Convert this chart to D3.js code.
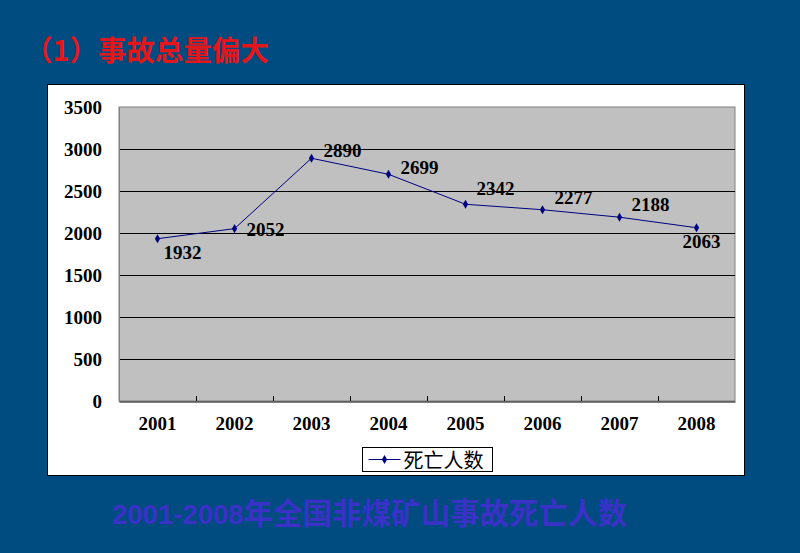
<!DOCTYPE html>
<html>
<head>
<meta charset="utf-8">
<script src="https://cdn.jsdelivr.net/npm/d3@7"></script>
<style>
  body { margin: 0; background: #004b80; }
  svg { display: block; }
</style>
</head>
<body>
<svg id="chart" width="800" height="553"></svg>
<script>
var years = ["2001", "2002", "2003", "2004", "2005", "2006", "2007", "2008"];
var deaths = [1932, 2052, 2890, 2699, 2342, 2277, 2188, 2063];
var yTicks = [0, 500, 1000, 1500, 2000, 2500, 3000, 3500];
var seriesName = "死亡人数";
var titleText = "（1）事故总量偏大";
var captionRange = "2001-2008";
var captionText = "年全国非煤矿山事故死亡人数";

var drawChart = function () {
    var svg = d3.select("#chart"),
        PLOT = { left: 119, right: 735, top: 107, bottom: 401 },
        numFont = "'Liberation Serif', 'Times New Roman', serif",
        cjkFont = "'Noto Sans CJK SC', sans-serif";

    svg.append("rect")
        .attr("width", 800).attr("height", 553)
        .attr("fill", "#004b80");

    // title
    svg.append("text")
        .attr("x", 24).attr("y", 61)
        .attr("fill", "#e3161b")
        .attr("font-family", cjkFont)
        .attr("font-weight", "bold")
        .attr("font-size", 28.5)
        .text(titleText);

    // caption
    var cap = svg.append("text")
        .attr("x", 112).attr("y", 524)
        .attr("fill", "#3a32c6")
        .attr("font-weight", "bold");
    cap.append("tspan")
        .attr("font-family", "'Liberation Sans', Arial, sans-serif")
        .attr("font-size", 27.5)
        .text(captionRange);
    cap.append("tspan")
        .attr("font-family", cjkFont)
        .attr("font-size", 29.5)
        .text(captionText);

    // white chart area
    svg.append("rect")
        .attr("x", 47.5).attr("y", 84.5)
        .attr("width", 697).attr("height", 391)
        .attr("fill", "#fff")
        .attr("stroke", "#000")
        .attr("stroke-width", 1);

    var xScale = d3.scaleBand().domain(years).range([PLOT.left, PLOT.right]),
        yScale = d3.scaleLinear().domain([0, 3500]).range([PLOT.bottom, PLOT.top]);

    svg.append("rect")
        .attr("x", PLOT.left).attr("y", PLOT.top)
        .attr("width", PLOT.right - PLOT.left).attr("height", PLOT.bottom - PLOT.top)
        .attr("fill", "#c0c0c0")
        .attr("stroke", "#808080");

    // grid lines
    svg.append("g")
        .selectAll("line")
        .data(yTicks.filter(function (d) { return d > 0 && d < 3500; }))
        .enter().append("line")
        .attr("x1", PLOT.left).attr("x2", PLOT.right)
        .attr("y1", function (d) { return Math.round(yScale(d)) + 0.5; })
        .attr("y2", function (d) { return Math.round(yScale(d)) + 0.5; })
        .attr("stroke", "#000")
        .attr("stroke-width", 1);

    // y axis
    var yAxis = d3.axisLeft(yScale).tickValues(yTicks).tickFormat(d3.format("d"))
        .tickSize(0).tickPadding(17);
    var gy = svg.append("g")
        .attr("transform", "translate(" + PLOT.left + ",0)")
        .call(yAxis);
    gy.select(".domain").attr("stroke", "#808080");
    gy.selectAll("text")
        .attr("font-family", numFont)
        .attr("font-weight", "bold")
        .attr("font-size", 19)
        .attr("fill", "#000");

    // x axis
    var xAxis = d3.axisBottom(xScale).tickSize(0).tickPadding(15);
    var gx = svg.append("g")
        .attr("transform", "translate(0," + (PLOT.bottom + 0.5) + ")")
        .call(xAxis);
    gx.select(".domain").attr("stroke", "#000");
    gx.selectAll("text")
        .attr("font-family", numFont)
        .attr("font-weight", "bold")
        .attr("font-size", 19)
        .attr("fill", "#000");

    // category separator ticks (inside)
    svg.append("g")
        .selectAll("line")
        .data(years.slice(1))
        .enter().append("line")
        .attr("x1", function (d) { return Math.round(xScale(d)) + 0.5; })
        .attr("x2", function (d) { return Math.round(xScale(d)) + 0.5; })
        .attr("y1", PLOT.bottom)
        .attr("y2", PLOT.bottom - 5)
        .attr("stroke", "#000");

    var cx = function (i) { return xScale(years[i]) + xScale.bandwidth() / 2; };

    var lineGen = d3.line()
        .x(function (d, i) { return cx(i); })
        .y(function (d) { return yScale(d); });

    svg.append("path")
        .attr("d", lineGen(deaths))
        .attr("stroke", "#000080")
        .attr("stroke-width", 1)
        .attr("fill", "none");

    var diamond = d3.symbol().type(d3.symbolDiamond).size(24);
    svg.append("g")
        .selectAll("path")
        .data(deaths)
        .enter().append("path")
        .attr("d", diamond)
        .attr("transform", function (d, i) {
            return "translate(" + cx(i) + "," + yScale(d) + ")";
        })
        .attr("fill", "#000080");

    // data labels, offsets relative to the point (dx to left edge, dy to baseline)
    var labelOffset = {
        "2001": [6, 20], "2002": [12, 7], "2003": [12, -1], "2004": [12, 0],
        "2005": [11, -9], "2006": [12, -6], "2007": [12, -6], "2008": [-14, 20]
    };
    svg.append("g")
        .selectAll("text")
        .data(deaths)
        .enter().append("text")
        .attr("x", function (d, i) { return cx(i) + labelOffset[years[i]][0]; })
        .attr("y", function (d, i) { return yScale(d) + labelOffset[years[i]][1]; })
        .attr("font-family", numFont)
        .attr("font-weight", "bold")
        .attr("font-size", 19)
        .attr("fill", "#000")
        .text(function (d) { return d; });

    // legend
    var lg = svg.append("g").attr("transform", "translate(362.5,447.5)");
    lg.append("rect")
        .attr("width", 130).attr("height", 24)
        .attr("fill", "#fff")
        .attr("stroke", "#000");
    lg.append("line")
        .attr("x1", 6).attr("x2", 38).attr("y1", 12).attr("y2", 12)
        .attr("stroke", "#000080");
    lg.append("path")
        .attr("d", diamond)
        .attr("transform", "translate(22,12)")
        .attr("fill", "#000080");
    lg.append("text")
        .attr("x", 41).attr("y", 20)
        .attr("font-family", cjkFont)
        .attr("font-size", 20)
        .attr("fill", "#000")
        .text(seriesName);
};

drawChart();
</script>
</body>
</html>
